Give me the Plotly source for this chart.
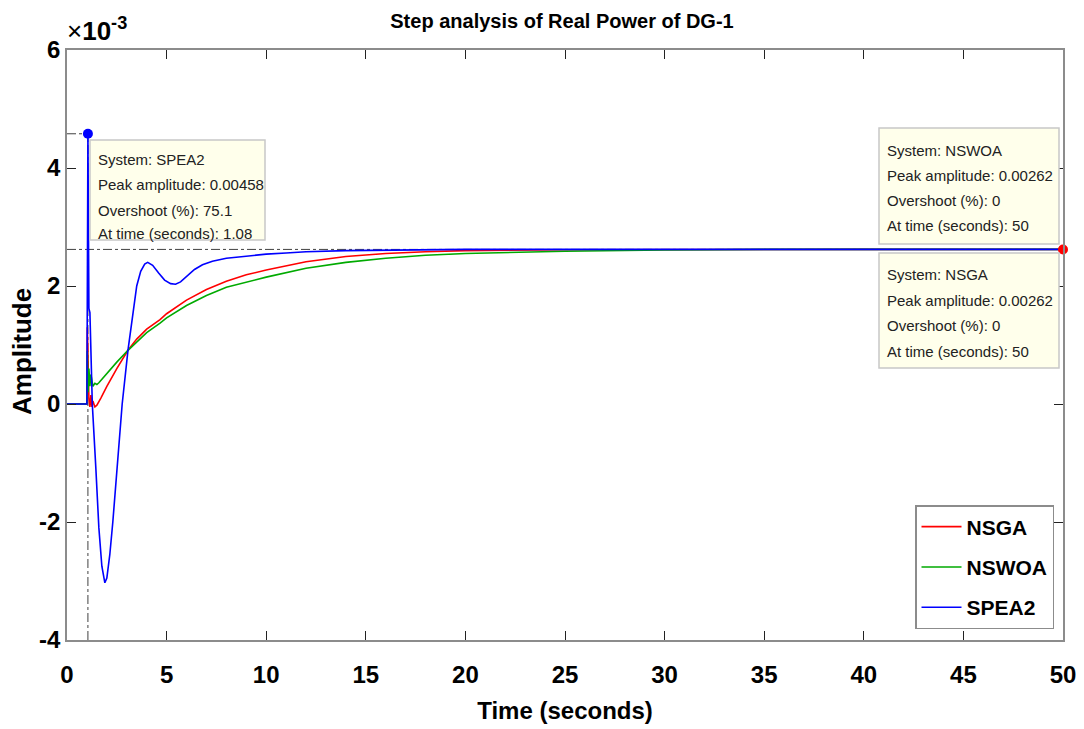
import plotly.graph_objects as go

# ---------------- data (amplitude in units of 1e-3) ----------------
t_nsga = [0, 1.0, 1.02, 1.06, 1.1, 1.15, 1.2, 1.25, 1.3, 1.4, 1.5, 1.7, 2.0, 2.5, 3.06, 3.5, 4.0, 4.67,
          5.0, 6.0, 7.0, 8.0, 9.0, 10.0, 12.0, 14.0, 16.0, 18.0, 20.0, 25.0, 30.0, 40.0, 50.0]
y_nsga = [0, 0, 1.3, 0.3, 0.1, -0.05, 0.15, -0.05, 0.05, -0.05, -0.02, 0.1, 0.3, 0.6, 0.91, 1.1, 1.27, 1.43,
          1.53, 1.76, 1.94, 2.08, 2.19, 2.27, 2.41, 2.5, 2.55, 2.58, 2.6, 2.615, 2.62, 2.62, 2.62]

t_nswoa = [0, 1.0, 1.02, 1.06, 1.1, 1.15, 1.2, 1.3, 1.4, 1.5, 1.6, 2.0, 2.5, 3.06, 3.5, 4.0, 4.67,
           5.0, 6.0, 7.0, 8.0, 9.0, 10.0, 12.0, 14.0, 16.0, 18.0, 20.0, 25.0, 30.0, 35.0, 50.0]
y_nswoa = [0, 0, 0.9, 0.2, 0.6, 0.3, 0.5, 0.3, 0.35, 0.33, 0.36, 0.52, 0.71, 0.91, 1.05, 1.21, 1.37,
           1.46, 1.67, 1.84, 1.98, 2.07, 2.15, 2.3, 2.4, 2.47, 2.52, 2.55, 2.59, 2.61, 2.62, 2.62]

t_spea2 = [0, 1.0, 1.05, 1.1, 1.15, 1.2, 1.27, 1.45, 1.6, 1.75, 1.9, 2.0, 2.15, 2.3, 2.5, 2.77, 3.06,
           3.3, 3.5, 3.7, 3.9, 4.05, 4.3, 4.6, 4.9, 5.2, 5.45, 5.7, 6.0, 6.4, 6.8, 7.3, 8.0, 9.0,
           10.0, 11.0, 12.0, 14.0, 16.0, 20.0, 30.0, 50.0]
y_spea2 = [0, 0, 4.58, 1.62, 1.55, 0.9, 0.0, -1.1, -2.1, -2.75, -3.03, -2.95, -2.55, -2.0, -1.2, 0.0, 0.91,
           1.55, 2.0, 2.25, 2.37, 2.4, 2.35, 2.22, 2.1, 2.04, 2.03, 2.07, 2.16, 2.28, 2.36, 2.42, 2.47, 2.51,
           2.54, 2.56, 2.58, 2.6, 2.61, 2.62, 2.62, 2.62]

series_names = ["NSGA", "NSWOA", "SPEA2"]
series_colors = ["#FF0000", "#00AA00", "#0000FF"]

peak_spea2 = (1.05, 4.58)
final_value = 2.62
t_end = 50

x_ticks = [0, 5, 10, 15, 20, 25, 30, 35, 40, 45, 50]
y_ticks = [-4, -2, 0, 2, 4, 6]
y_tick_labels = ["-4", "-2", "0", "2", "4", "6"]

tips = [
    ["System: SPEA2", "Peak amplitude: 0.00458", "Overshoot (%): 75.1", "At time (seconds): 1.08"],
    ["System: NSWOA", "Peak amplitude: 0.00262", "Overshoot (%): 0", "At time (seconds): 50"],
    ["System: NSGA", "Peak amplitude: 0.00262", "Overshoot (%): 0", "At time (seconds): 50"],
]

# ---------------- layout helpers (pixel -> paper) ----------------
W, H = 1084, 729
L, R, T, B = 67, 1063, 50, 640


def px(x):
    return (x - L) / (R - L)


def py(y):
    return (B - y) / (B - T)


FONT = "Liberation Sans, Arial, sans-serif"
TIPFONT = "Liberation Sans, Arial, sans-serif"

fig = go.Figure()
for name, color, tx, ty in zip(series_names, series_colors,
                               [t_nsga, t_nswoa, t_spea2], [y_nsga, y_nswoa, y_spea2]):
    fig.add_trace(go.Scatter(x=tx, y=ty, mode="lines", name=name, legendgroup=name,
                             line=dict(color=color, width=1.6)))

# markers
fig.add_trace(go.Scatter(x=[peak_spea2[0]], y=[peak_spea2[1]], mode="markers", showlegend=False,
                         marker=dict(color="#0000FF", size=10), cliponaxis=False))
fig.add_trace(go.Scatter(x=[t_end], y=[final_value], mode="markers", showlegend=False,
                         marker=dict(color="#FF0000", size=10), cliponaxis=False))

# dash-dot guide lines
guide = dict(color="#404040", width=1, dash="dashdot")
fig.add_shape(type="line", x0=peak_spea2[0], x1=peak_spea2[0], y0=-4, y1=peak_spea2[1], line=guide, layer="below")
fig.add_shape(type="line", x0=0, x1=peak_spea2[0], y0=peak_spea2[1], y1=peak_spea2[1], line=guide, layer="below")
fig.add_shape(type="line", x0=0, x1=t_end, y0=final_value, y1=final_value, line=guide, layer="below")

# data tips
boxes = [
    ((90, 140, 265, 240), 96, [160, 185, 210, 234]),
    ((879, 128, 1059, 244), 885, [150, 175, 201, 226]),
    ((879, 253, 1059, 368), 885, [274, 300, 325, 351]),
]
for ((bx0, by0, bx1, by1), tx0, lines_y), lines in zip(boxes, tips):
    fig.add_shape(type="rect", xref="paper", yref="paper", x0=px(bx0), x1=px(bx1), y0=py(by1), y1=py(by0),
                  fillcolor="#FFFFEB", line=dict(color="#C8C8C8", width=1.5), layer="above")
    for ly, txt in zip(lines_y, lines):
        fig.add_annotation(xref="paper", yref="paper", x=px(tx0), y=py(ly), text=txt, showarrow=False,
                           xanchor="left", yanchor="middle",
                           font=dict(family=TIPFONT, size=15, color="#222222"))

# exponent label
fig.add_annotation(xref="paper", yref="paper", x=0, y=1, xanchor="left", yanchor="bottom",
                   text="×<b>10<sup>-3</sup></b>", showarrow=False, yshift=2, xshift=-2,
                   font=dict(family=FONT, size=26, color="#000000"))

# y-axis title
fig.add_annotation(xref="paper", yref="paper", x=px(22), y=py(352), xanchor="center", yanchor="middle",
                   text="Amplitude", textangle=-90, showarrow=False,
                   font=dict(family=FONT, size=26, color="#000000", weight="bold"))

axis_common = dict(showgrid=False, zeroline=False, showline=True, linecolor="#8C8C8C", linewidth=1.5,
                   mirror="ticks", ticks="inside", ticklen=9, tickcolor="#222222", tickwidth=1,
                   automargin=False,
                   tickfont=dict(family=FONT, size=24, color="#000000", weight="bold"))

fig.update_layout(
    width=W, height=H,
    margin=dict(l=L, r=W - R, t=T, b=H - B),
    paper_bgcolor="white", plot_bgcolor="white",
    title=dict(text="Step analysis of Real Power of DG-1", x=562 / W, xanchor="center",
               y=1 - 21 / H, yanchor="middle",
               font=dict(family=FONT, size=20, color="#000000", weight="bold")),
    xaxis=dict(range=[0, 50], tickvals=x_ticks, ticklabelstandoff=12, **axis_common,
               title=dict(text="Time (seconds)", standoff=16,
                          font=dict(family=FONT, size=24, color="#000000", weight="bold"))),
    yaxis=dict(range=[-4, 6], tickvals=y_ticks, ticktext=y_tick_labels, **axis_common),
    legend=dict(x=px(915), y=py(505), xanchor="left", yanchor="top", bgcolor="white",
                bordercolor="#8C8C8C", borderwidth=1.5, tracegroupgap=10, traceorder="grouped",
                itemwidth=40,
                font=dict(family=FONT, size=21, color="#000000", weight="bold")),
    showlegend=True,
)

fig.write_html("out.html")
